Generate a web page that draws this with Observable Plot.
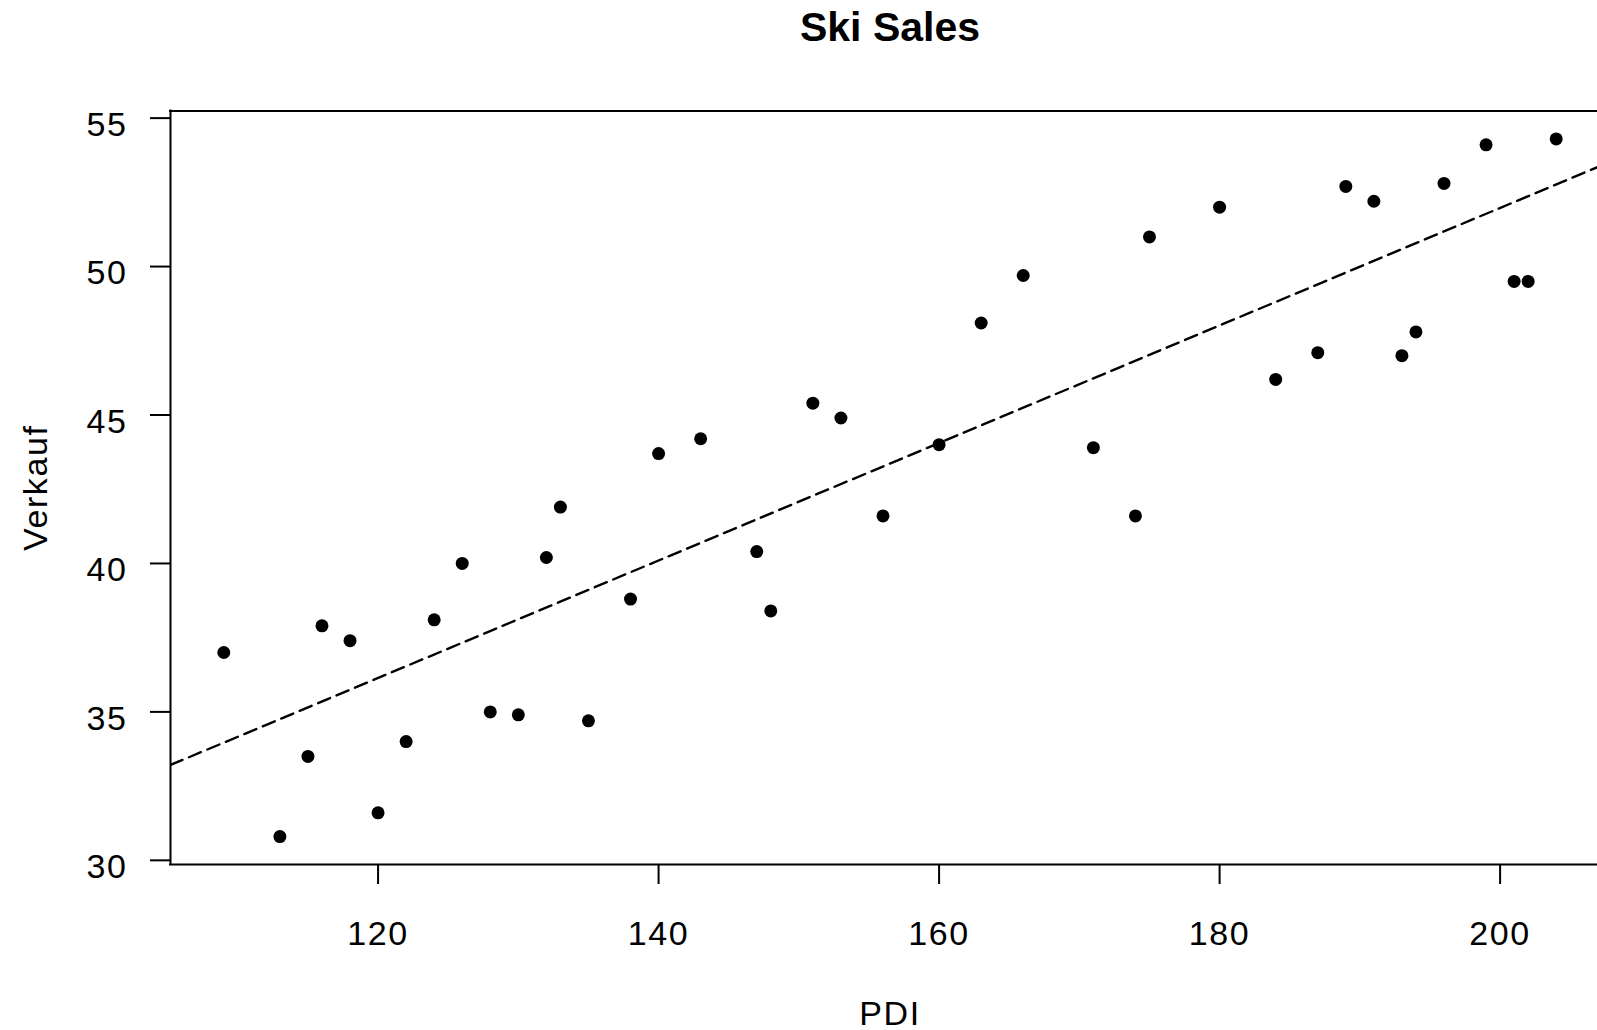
<!DOCTYPE html>
<html>
<head>
<meta charset="utf-8">
<script src="https://cdn.jsdelivr.net/npm/d3@7"></script>
<script src="https://cdn.jsdelivr.net/npm/@observablehq/plot@0.6"></script>
<style>
  html, body { margin: 0; padding: 0; background: #fff; overflow: hidden; width: 1597px; }
  #title {
    box-sizing: border-box;
    height: 62px;
    width: 1597px;
    padding-top: 7px;
    padding-left: 183px;
    text-align: center;
    font: bold 41px "Liberation Sans", Arial, sans-serif;
    line-height: 1;
    color: #000;
  }
  #chart svg { display: block; }
</style>
</head>
<body>
<div id="title">Ski Sales</div>
<div id="chart"></div>
<script>
// Quarterly ski sales (Verkauf) against personal disposable income (PDI)
const pdi = [109, 115, 113, 116, 118, 120, 122, 124, 126, 128,
             130, 132, 133, 135, 138, 140, 143, 147, 148, 151,
             153, 156, 160, 163, 166, 171, 174, 175, 180, 184,
             187, 189, 191, 193, 194, 196, 199, 201, 202, 204];
const verkauf = [37.0, 33.5, 30.8, 37.9, 37.4, 31.6, 34.0, 38.1, 40.0, 35.0,
                 34.9, 40.2, 41.9, 34.7, 38.8, 43.7, 44.2, 40.4, 38.4, 45.4,
                 44.9, 41.6, 44.0, 48.1, 49.7, 43.9, 41.6, 51.0, 52.0, 46.2,
                 47.1, 52.7, 52.2, 47.0, 47.8, 52.8, 54.1, 49.5, 49.5, 54.3];
const xTicks = [120, 140, 160, 180, 200];
const yTicks = [30, 35, 40, 45, 50, 55];

const data = pdi.map((p, i) => ({pdi: p, verkauf: verkauf[i]}));

// Axis limits padded by 4% of the data range on each side
const pad = ([lo, hi]) => [lo - 0.04 * (hi - lo), hi + 0.04 * (hi - lo)];
const xDomain = pad(d3.extent(pdi));
const yDomain = pad(d3.extent(verkauf));

// Least-squares fit of Verkauf on PDI, drawn across the full x range
const mx = d3.mean(pdi), my = d3.mean(verkauf);
const slope = d3.sum(pdi, (p, i) => (p - mx) * (verkauf[i] - my)) /
              d3.sum(pdi, p => (p - mx) ** 2);
const intercept = my - slope * mx;
const fitLine = xDomain.map(x => ({pdi: x, verkauf: intercept + slope * x}));

const fontSize = 34;
const textStyle = {fontSize, letterSpacing: "1.6px"};

// The plotting region runs a little past the right edge of the page,
// so its right side is cut off there.
const chart = Plot.plot({
  width: 1597,
  height: 968,
  marginLeft: 170,
  marginRight: 0,
  marginTop: 48.5,
  marginBottom: 166,
  style: {fontFamily: "Liberation Sans, Arial, sans-serif", fontSize: `${fontSize}px`,
          letterSpacing: "1.6px", color: "#000", background: "#fff"},
  x: {domain: xDomain, range: [170, 1609]},
  y: {domain: yDomain},
  marks: [
    // box around the plotting region (left, top, bottom)
    Plot.ruleY(yDomain, {stroke: "#000", strokeWidth: 2, strokeLinecap: "square"}),
    Plot.ruleX([xDomain[0]], {stroke: "#000", strokeWidth: 2, strokeLinecap: "square"}),
    // x axis: ticks and labels
    Plot.axisX({ticks: xTicks, tickSize: 20, tickPadding: 36, strokeWidth: 2,
                fontSize, label: null}),
    // y axis: tick lines
    Plot.axisY({ticks: yTicks, tickSize: 20, strokeWidth: 2,
                tickFormat: () => "", label: null}),
    // y axis: labels, set slightly below each tick
    Plot.text(yTicks, {x: xDomain[0], y: d => d, text: d => String(d),
                       textAnchor: "end", dx: -43, dy: 7, ...textStyle}),
    // axis titles
    Plot.text(["PDI"], {frameAnchor: "bottom", x: d3.mean(xDomain), text: d => d,
                        lineAnchor: "bottom", dy: 160, ...textStyle}),
    Plot.text(["Verkauf"], {frameAnchor: "left", text: d => d, rotate: -90,
                            textAnchor: "middle", lineAnchor: "bottom", dx: -124,
                            ...textStyle}),
    // regression line
    Plot.line(fitLine, {x: "pdi", y: "verkauf", stroke: "#000", strokeWidth: 2.4,
                        strokeDasharray: "13,7", clip: true}),
    // observations
    Plot.dot(data, {x: "pdi", y: "verkauf", r: 6.5, fill: "#000", stroke: null})
  ]
});

document.getElementById("chart").append(chart);
</script>
</body>
</html>
